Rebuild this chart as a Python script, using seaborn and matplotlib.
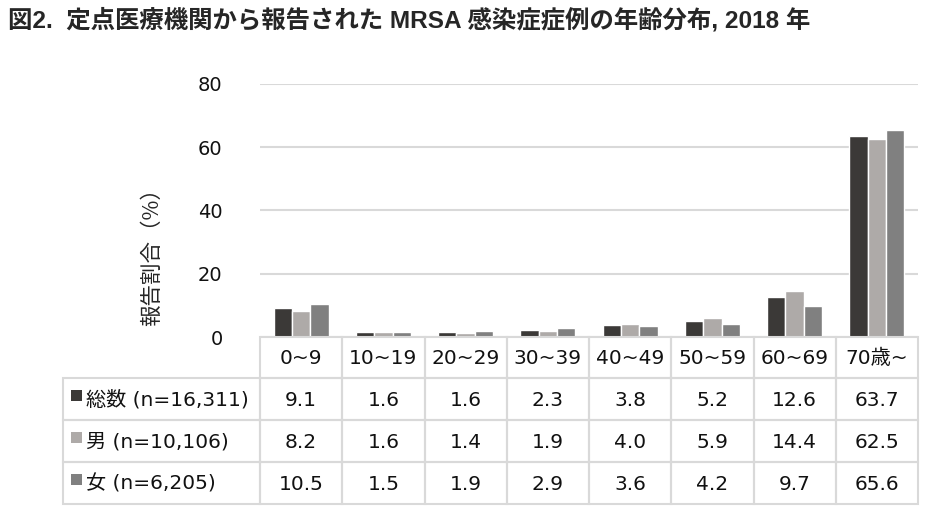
import pandas as pd
import seaborn as sns
import matplotlib.pyplot as plt
from matplotlib.patches import Rectangle

# data
age_groups = ['0~9', '10~19', '20~29', '30~39', '40~49', '50~59', '60~69', '70歳~']
series_names = ['総数 (n=16,311)', '男 (n=10,106)', '女 (n=6,205)']
total = [9.1, 1.6, 1.6, 2.3, 3.8, 5.2, 12.6, 63.7]
male = [8.2, 1.6, 1.4, 1.9, 4.0, 5.9, 14.4, 62.5]
female = [10.5, 1.5, 1.9, 2.9, 3.6, 4.2, 9.7, 65.6]
y_ticks = [0, 20, 40, 60, 80]
colors = ['#3b3937', '#aeaaa8', '#808080']

title = '図2.  定点医療機関から報告された MRSA 感染症症例の年齢分布, 2018 年'
y_label = '報告割合（%）'

values = [total, male, female]
df = pd.DataFrame({
    'age': age_groups * 3,
    'series': [s for s in series_names for _ in age_groups],
    'value': total + male + female,
})

sns.set_theme(style='white')
plt.rcParams['font.family'] = ['DejaVu Sans', 'Noto Sans CJK JP']

W, H = 934, 511
fig = plt.figure(figsize=(W / 100, H / 100), dpi=100)

# plot area in pixels
left, right, top, bottom = 260, 918, 84, 337
ax = fig.add_axes([left / W, 1 - bottom / H, (right - left) / W, (bottom - top) / H])
sns.barplot(data=df, x='age', y='value', hue='series', palette=colors,
            width=0.67, saturation=1, ax=ax, legend=False, errorbar=None)
ax.set_xlim(-0.5, len(age_groups) - 0.5)
ax.set_ylim(0, 80)
ax.set_yticks(y_ticks)
ax.yaxis.grid(True, color='#d9d9d9', lw=1.5)
ax.set_axisbelow(True)
for sp in ax.spines.values():
    sp.set_visible(False)
ax.set_xticks([])
ax.set_xlabel('')
ax.set_ylabel('')
ax.tick_params(axis='y', length=0, pad=27, labelsize=14, labelcolor='#111111')

fig.text(8 / W, 1 - 20 / H, title, fontsize=17.6, fontweight='bold', ha='left', va='center',
         family=['Liberation Sans', 'Noto Sans CJK JP'])
fig.text(152 / W, 1 - 252 / H, y_label, fontsize=15.5, rotation=90, ha='center', va='center',
         family=['Noto Sans CJK JP', 'DejaVu Sans'])

# data table below the plot, drawn in pixel coordinates
tab = fig.add_axes([0, 0, 1, 1])
tab.set_xlim(0, W)
tab.set_ylim(H, 0)
tab.axis('off')

line_c = '#d9d9d9'
lw = 1.5
col_w = (right - left) / len(age_groups)
row_tops = [337, 378, 420, 462, 504]
label_left = 63
fs = 14.5

# header row
for i, g in enumerate(age_groups):
    x0 = left + i * col_w
    tab.add_patch(Rectangle((x0, row_tops[0]), col_w, row_tops[1] - row_tops[0],
                            fill=False, ec=line_c, lw=lw))
    tab.text(x0 + col_w / 2, (row_tops[0] + row_tops[1]) / 2 + 1, g,
             ha='center', va='center', fontsize=fs, color='#111111')

# data rows
for r, (name, vals, c) in enumerate(zip(series_names, values, colors)):
    y0, y1 = row_tops[r + 1], row_tops[r + 2]
    yc = (y0 + y1) / 2
    tab.add_patch(Rectangle((label_left, y0), left - label_left, y1 - y0,
                            fill=False, ec=line_c, lw=lw))
    tab.add_patch(Rectangle((71, yc - 9), 11, 11, color=c, lw=0))
    tab.text(86, yc + 1, name, ha='left', va='center', fontsize=fs, color='#111111')
    for i, v in enumerate(vals):
        x0 = left + i * col_w
        tab.add_patch(Rectangle((x0, y0), col_w, y1 - y0, fill=False, ec=line_c, lw=lw))
        tab.text(x0 + col_w / 2, yc + 1, f'{v:.1f}', ha='center', va='center',
                 fontsize=fs, color='#111111')

fig.savefig('out.png', dpi=100)
